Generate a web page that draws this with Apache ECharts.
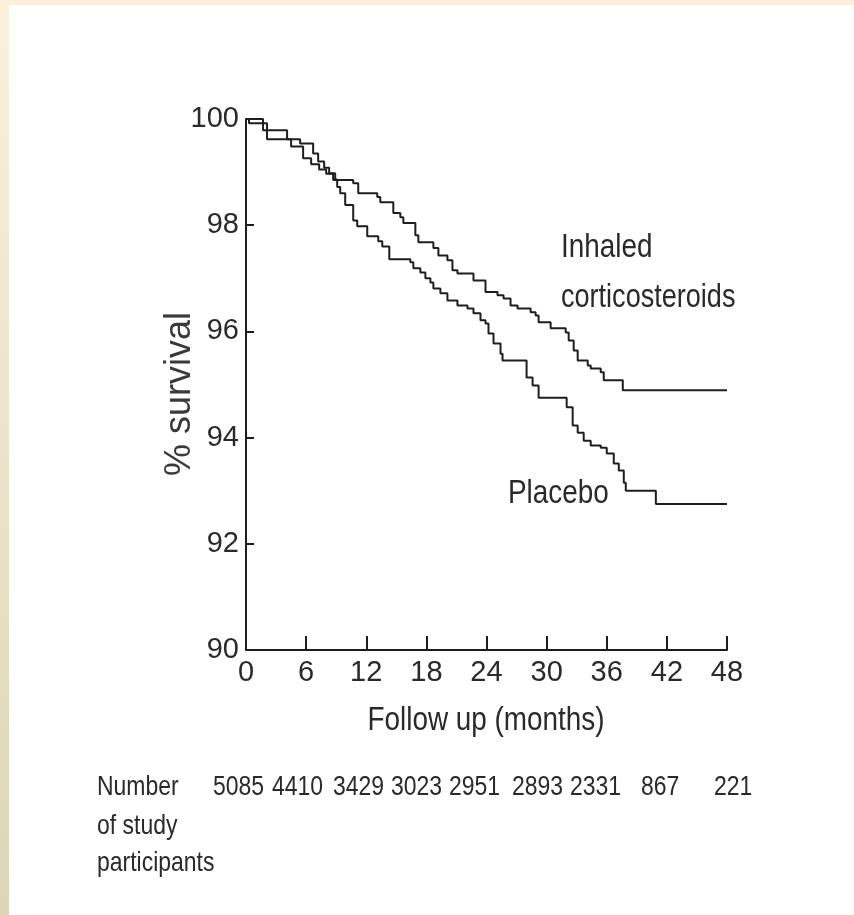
<!DOCTYPE html>
<html>
<head>
<meta charset="utf-8">
<script src="https://cdn.jsdelivr.net/npm/echarts@6/dist/echarts.min.js"></script>
<style>
  html, body { margin: 0; padding: 0; background: #ffffff; }
  #chart { width: 854px; height: 915px; }
</style>
</head>
<body>
<div id="chart"></div>
<script>
// Axis ticks
const monthTicks = [0, 6, 12, 18, 24, 30, 36, 42, 48];
const survivalTicks = [90, 92, 94, 96, 98, 100];

// Kaplan-Meier steps: month at which the curve drops, and the new % survival
const corticosteroidMonths = [0, 0.3, 2.1, 4.5, 5.7, 6.5, 7.3, 8.0, 8.7, 10.7, 11.2, 13.1, 13.4, 14.7, 15.4, 15.7, 16.9, 17.2, 18.7, 19.2, 20.1, 20.6, 21.1, 22.7, 23.9, 25.1, 25.7, 26.4, 27.1, 28.4, 28.9, 29.2, 30.4, 31.9, 32.2, 32.7, 33.1, 34.1, 34.4, 35.4, 35.7, 37.6, 48];
const corticosteroidSurvival = [100, 99.92, 99.62, 99.48, 99.26, 99.15, 99.05, 98.97, 98.85, 98.79, 98.6, 98.53, 98.43, 98.23, 98.15, 98.04, 97.81, 97.68, 97.57, 97.43, 97.34, 97.15, 97.09, 96.96, 96.74, 96.68, 96.62, 96.49, 96.43, 96.36, 96.30, 96.17, 96.06, 95.98, 95.83, 95.64, 95.45, 95.36, 95.30, 95.23, 95.08, 94.89, 94.89];

const placeboMonths = [0, 1.7, 4.1, 5.4, 6.7, 7.2, 7.8, 8.3, 8.9, 9.1, 9.4, 9.9, 10.7, 11.1, 12.1, 13.2, 13.6, 14.3, 16.4, 16.7, 17.4, 17.9, 18.4, 18.7, 19.4, 20.1, 21.1, 22.1, 22.7, 23.4, 23.9, 24.2, 24.7, 25.4, 25.6, 28.0, 28.6, 29.2, 32.0, 32.6, 33.1, 33.7, 34.4, 35.4, 36.0, 36.7, 37.2, 37.7, 37.9, 40.9, 48];
const placeboSurvival = [100, 99.79, 99.62, 99.54, 99.35, 99.2, 99.08, 98.98, 98.86, 98.72, 98.6, 98.38, 98.09, 97.98, 97.79, 97.70, 97.60, 97.36, 97.30, 97.19, 97.11, 97.00, 96.92, 96.81, 96.72, 96.58, 96.49, 96.43, 96.34, 96.21, 96.15, 95.96, 95.77, 95.58, 95.45, 95.13, 94.98, 94.75, 94.57, 94.23, 94.09, 93.94, 93.85, 93.81, 93.70, 93.51, 93.38, 93.15, 93.0, 92.75, 92.75];

// Numbers at risk
const atRiskCounts = ['5085', '4410', '3429', '3023', '2951', '2893', '2331', '867', '221'];
const atRiskCaption = ['Number', 'of study', 'participants'];

// Text
const xAxisTitle = 'Follow up (months)';
const yAxisTitle = '% survival';
const corticosteroidLabel = ['Inhaled', 'corticosteroids'];
const placeboLabel = 'Placebo';

// Layout (pixels)
const atRiskLeft = [213, 272, 333, 391, 449, 512, 570, 641, 714];
const atRiskRowY = [787, 826, 863];

const sansFont = "'Liberation Sans', Arial, sans-serif";
const narrow = 0.82; // horizontal squeeze for a narrow typeface look
const textColor = '#2a2a2a';
const inkColor = '#1e1e1e';

const zip = (xs, ys) => xs.map((x, i) => [x, ys[i]]);

const chart = echarts.init(document.getElementById('chart'), null, { renderer: 'canvas' });

function narrowText(text, x, y, size, align) {
  return {
    type: 'text', x: x, y: y, scaleX: narrow, scaleY: 1, silent: true,
    style: { text: text, font: size + 'px ' + sansFont, fill: textColor, align: align || 'left', verticalAlign: 'middle' }
  };
}

const graphics = [
  // paper edge
  { type: 'rect', left: 0, top: 0, shape: { width: 854, height: 5 }, style: { fill: '#fbf0dc' }, silent: true },
  { type: 'rect', left: 0, top: 0, shape: { width: 9, height: 915 }, silent: true,
    style: { fill: new echarts.graphic.LinearGradient(0, 0, 0, 1, [
      { offset: 0, color: '#fbf0dc' }, { offset: 1, color: '#ddd5b6' }]) } },
  // axis titles
  { type: 'text', x: 180, y: 394, rotation: Math.PI / 2, silent: true,
    style: { text: yAxisTitle, font: '36px ' + sansFont, fill: '#3a3a3a', align: 'center', verticalAlign: 'middle' } },
  narrowText(xAxisTitle, 486, 721, 34, 'center'),
  // curve labels
  narrowText(corticosteroidLabel[0], 561, 248, 34),
  narrowText(corticosteroidLabel[1], 561, 298, 33),
  narrowText(placeboLabel, 508, 494, 34)
];

atRiskCaption.forEach((t, i) => graphics.push(narrowText(t, 97, atRiskRowY[i], 28)));
atRiskCounts.forEach((t, i) => graphics.push(narrowText(t, atRiskLeft[i], atRiskRowY[0], 28)));

const option = {
  backgroundColor: '#ffffff',
  animation: false,
  grid: { left: 246, right: 127, top: 119, bottom: 265, containLabel: false },
  xAxis: {
    type: 'value',
    min: monthTicks[0],
    max: monthTicks[monthTicks.length - 1],
    interval: monthTicks[1] - monthTicks[0],
    axisLine: { lineStyle: { color: inkColor, width: 2 } },
    axisTick: { inside: true, length: 14, lineStyle: { color: inkColor, width: 2 } },
    axisLabel: { margin: 8, fontFamily: sansFont, fontSize: 29, color: textColor },
    splitLine: { show: false }
  },
  yAxis: {
    type: 'value',
    min: survivalTicks[0],
    max: survivalTicks[survivalTicks.length - 1],
    interval: survivalTicks[1] - survivalTicks[0],
    axisLine: { show: true, lineStyle: { color: inkColor, width: 2 } },
    axisTick: { show: true, inside: true, length: 8, lineStyle: { color: inkColor, width: 2 } },
    axisLabel: { margin: 7, fontFamily: sansFont, fontSize: 29, color: textColor },
    splitLine: { show: false }
  },
  series: [
    {
      name: corticosteroidLabel.join(' '),
      type: 'line',
      step: 'end',
      showSymbol: false,
      symbol: 'none',
      data: zip(corticosteroidMonths, corticosteroidSurvival),
      lineStyle: { color: inkColor, width: 2 },
      z: 3
    },
    {
      name: placeboLabel,
      type: 'line',
      step: 'end',
      showSymbol: false,
      symbol: 'none',
      data: zip(placeboMonths, placeboSurvival),
      lineStyle: { color: inkColor, width: 2 },
      z: 3
    }
  ],
  graphic: graphics
};

chart.setOption(option);
</script>
</body>
</html>
